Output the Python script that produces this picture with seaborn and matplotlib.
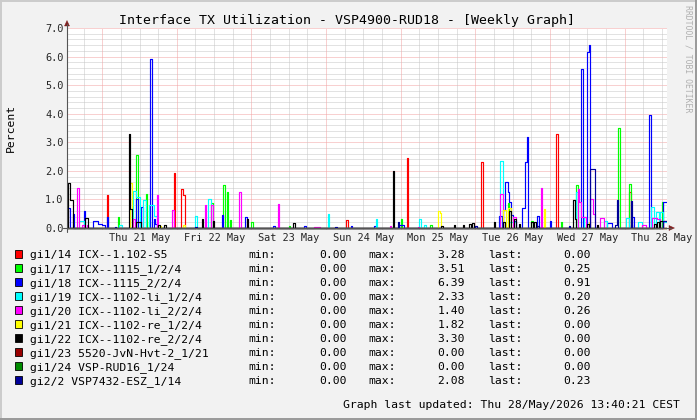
import numpy as np
import pandas as pd
import matplotlib
matplotlib.use("Agg")
import matplotlib.pyplot as plt
import seaborn as sns
from matplotlib.patches import Rectangle, Polygon
from matplotlib.lines import Line2D

# ---------------- data ----------------
title = "Interface TX Utilization - VSP4900-RUD18 - [Weekly Graph]"
y_label = "Percent"
watermark = "RRDTOOL / TOBI OETIKER"
updated = "Graph last updated: Thu 28/May/2026 13:40:21 CEST"

day_labels = ["Thu 21 May", "Fri 22 May", "Sat 23 May", "Sun 24 May",
              "Mon 25 May", "Tue 26 May", "Wed 27 May", "Thu 28 May"]
y_ticks = [0, 1, 2, 3, 4, 5, 6, 7]

# hours relative to Thu 21 May 00:00
T_START, T_END = -11.33, 181.67

names = ["gi1/14 ICX--1.102-S5", "gi1/17 ICX--1115_1/2/4", "gi1/18 ICX--1115_2/2/4",
         "gi1/19 ICX--1102-li_1/2/4", "gi1/20 ICX--1102-li_2/2/4", "gi1/21 ICX--1102-re_1/2/4",
         "gi1/22 ICX--1102-re_2/2/4", "gi1/23 5520-JvN-Hvt-2_1/21", "gi1/24 VSP-RUD16_1/24",
         "gi2/2 VSP7432-ESZ_1/14"]
colors = ["#ff0000", "#00ff00", "#0000ff", "#00ffff", "#ff00ff", "#ffff00",
          "#000000", "#990000", "#008c00", "#000099"]
mins = [0.00, 0.00, 0.00, 0.00, 0.00, 0.00, 0.00, 0.00, 0.00, 0.00]
maxs = [3.28, 3.51, 6.39, 2.33, 1.40, 1.82, 3.30, 0.00, 0.00, 2.08]
lasts = [0.00, 0.25, 0.91, 0.20, 0.26, 0.00, 0.00, 0.00, 0.00, 0.23]

# (half-hour slot from Thu 21 May 00:00, percent) -- all other slots are 0
red = [(3, 1.15), (46, 1.91), (51, 1.36), (52, 1.17), (157, 0.27), (196, 2.46),
       (244, 2.30), (292, 3.28), (339, 1.25)]
green = [(10, 0.39), (22, 2.56), (28, 1.20), (30, 0.20), (70, 0.86), (78, 1.50), (80, 1.27),
         (82, 0.28), (96, 0.20), (120, 0.08), (192, 0.31), (211, 0.10), (261, 0.86),
         (276, 0.25), (295, 0.20), (305, 1.50), (332, 3.51), (339, 1.53), (360, 0.90),
         (361, 0.25), (362, 0.25), (363, 0.25)]
blue = [(-22, 0.69), (-19, 0.50), (-12, 0.60), (-6, 0.23), (-5, 0.23), (-4, 0.23),
        (-3, 0.15), (-2, 0.15), (-1, 0.15), (0, 0.10), (1, 0.10), (3, 0.40), (22, 1.00),
        (25, 0.75), (31, 5.90), (33, 0.30), (34, 0.15), (77, 0.44), (92, 0.38), (110, 0.06),
        (130, 0.06), (160, 0.06), (175, 0.06), (191, 0.12), (192, 0.12), (193, 0.12),
        (255, 0.42), (256, 0.42), (258, 0.63), (259, 1.62), (260, 1.62), (261, 1.27),
        (262, 0.90), (263, 0.45), (264, 0.24), (265, 0.24), (270, 0.70), (271, 0.70),
        (272, 2.30), (273, 3.20), (280, 0.42), (288, 0.25), (308, 5.56), (312, 6.15),
        (313, 6.39), (325, 0.17), (326, 0.17), (327, 0.17), (341, 0.40), (352, 3.95),
        (361, 0.91), (362, 0.91), (363, 0.91)]
cyan = [(-15, 0.23), (-14, 0.23), (-13, 0.23), (11, 0.12), (12, 0.12), (20, 1.30), (21, 1.30),
        (22, 1.10), (23, 1.10), (26, 0.98), (27, 0.98), (30, 0.80), (31, 0.80), (32, 0.80),
        (33, 0.42), (34, 0.42), (60, 0.42), (68, 1.03), (69, 1.03), (145, 0.48), (176, 0.33),
        (204, 0.31), (207, 0.12), (256, 2.33), (257, 2.33), (262, 0.22), (263, 0.22),
        (264, 0.22), (265, 0.22), (305, 1.27), (310, 0.40), (323, 0.23), (324, 0.23),
        (337, 0.35), (338, 0.35), (345, 0.20), (346, 0.20), (353, 0.72), (354, 0.72),
        (356, 0.55), (357, 0.55), (359, 0.57), (360, 0.57), (361, 0.20), (362, 0.20),
        (363, 0.20)]
magenta = [(-16, 1.39), (-13, 0.10), (-10, 0.10), (20, 0.30), (35, 1.17), (45, 0.63),
           (66, 0.80), (70, 0.80), (88, 1.27), (113, 0.84), (136, 0.05), (137, 0.05),
           (138, 0.05), (139, 0.05), (185, 0.06), (203, 0.05), (256, 1.19), (257, 1.19),
           (264, 0.40), (265, 0.40), (282, 1.40), (306, 1.36), (307, 0.90), (308, 0.40),
           (309, 0.40), (310, 0.40), (314, 1.00), (315, 1.00), (316, 0.50), (320, 0.35),
           (321, 0.35), (322, 0.35), (347, 0.12), (348, 0.12), (349, 0.12), (354, 0.35),
           (355, 0.35), (356, 0.35), (357, 0.30), (358, 0.30), (361, 0.26), (362, 0.26),
           (363, 0.26)]
yellow = [(18, 1.56), (37, 0.07), (52, 0.10), (216, 0.60), (217, 0.51), (258, 0.63),
          (259, 0.63), (261, 0.70), (262, 0.70), (284, 0.68), (313, 0.20)]
black = [(-22, 1.56), (-21, 0.98), (-20, 0.98), (-11, 0.35), (-10, 0.35), (17, 3.30),
         (18, 0.65), (22, 0.20), (23, 0.20), (24, 0.20), (36, 0.10), (40, 0.12), (64, 0.30),
         (71, 0.25), (93, 0.30), (123, 0.18), (187, 2.00), (218, 0.08), (226, 0.10),
         (232, 0.12), (236, 0.15), (238, 0.16), (252, 0.20), (258, 0.20), (262, 0.59),
         (265, 0.30), (268, 0.15), (276, 0.20), (278, 0.20), (303, 0.98), (304, 0.30),
         (312, 0.15), (318, 0.12), (340, 0.10), (355, 0.15), (357, 0.20), (359, 0.25),
         (360, 0.25)]
darkred = []
darkgreen = []
navy = [(8, 0.05), (60, 0.04), (150, 0.05), (190, 0.20), (240, 0.06), (280, 0.08),
        (300, 0.06), (314, 2.08), (315, 2.05), (316, 2.05), (330, 0.10), (331, 0.98),
        (340, 0.95), (361, 0.23), (362, 0.23), (363, 0.23)]

series_spikes = [red, green, blue, cyan, magenta, yellow, black, darkred, darkgreen, navy]

# ---------------- style ----------------
W, H, DPI = 697, 420, 100
BG = "#f2f2f2"
MONO = ["DejaVu Sans Mono"]
sns.set_theme(style="white")
plt.rcParams["font.family"] = MONO
plt.rcParams["text.color"] = "black"

def fx(px):
    return px / W

def fy(py):
    return 1 - py / H

fig = plt.figure(figsize=(W / DPI, H / DPI), dpi=DPI, facecolor=BG)

PL, PR, PT, PB = 67, 667, 28, 228
UNIT = (PB - PT) / 7.0
ax = fig.add_axes([fx(PL), fy(PB + 2), (PR - PL) / W, (PB + 2 - PT) / H])
ax.set_facecolor("white")
for s in ax.spines.values():
    s.set_visible(False)

# ---------------- lines ----------------
slots = np.arange(-23, 364)
frames = []
for name, spikes in zip(names, series_spikes):
    v = np.zeros(len(slots))
    for s, val in spikes:
        v[s + 23] = val
    t = np.append(slots * 0.5, T_END + 0.5)
    v = np.append(v, v[-1])
    frames.append(pd.DataFrame({"t": t, "v": v, "series": name}))
df = pd.concat(frames, ignore_index=True)

sns.lineplot(data=df, x="t", y="v", hue="series", hue_order=names, palette=colors,
             estimator=None, sort=False, drawstyle="steps-post", linewidth=0.85,
             legend=False, ax=ax, zorder=3)

ax.set_xlim(T_START, T_END)
ax.set_ylim(-2 / UNIT, 7)
ax.set_xlabel("")
ax.set_ylabel("")

# grid
GRID = "#c6c6c6"
MGRID = "#f2a3a3"
for yv in np.arange(0.2, 7.01, 0.2):
    major = abs(yv - round(yv)) < 1e-6
    ax.axhline(yv, color=MGRID if major else GRID, lw=0.72, ls=(0, (1, 1)), zorder=1)
for tv in np.arange(-6, 181, 6):
    major = tv % 24 == 0
    ax.axvline(tv, color=MGRID if major else GRID, lw=0.72, ls=(0, (1, 1)), zorder=1)

# ticks & labels
noon = [12 + 24 * i for i in range(len(day_labels))]
ax.set_xticks(noon)
ax.set_xticklabels(day_labels, fontsize=7.4, family=MONO)
ax.set_yticks(y_ticks)
ax.set_yticklabels([f"{v:.1f}" for v in y_ticks], fontsize=7.4, family=MONO)
ax.tick_params(axis="x", length=0, pad=2.4)
ax.tick_params(axis="y", length=0, pad=2.6)

# axes lines and arrows
AX_COL = "#555555"
ARROW = "#7f1f1f"
fig.add_artist(Line2D([fx(63), fx(671)], [fy(228), fy(228)], color=AX_COL, lw=0.8))
fig.add_artist(Line2D([fx(67), fx(67)], [fy(232), fy(24)], color=AX_COL, lw=0.8))
fig.add_artist(Polygon([(fx(64.5), fy(26)), (fx(69.5), fy(26)), (fx(67), fy(20.5))],
                       closed=True, facecolor=ARROW, edgecolor=ARROW, lw=0.3))
fig.add_artist(Polygon([(fx(669), fy(225.5)), (fx(669), fy(230.5)), (fx(674.5), fy(228))],
                       closed=True, facecolor=ARROW, edgecolor=ARROW, lw=0.3))

# texts
fig.text(fx(346.7), fy(24), title, ha="center", va="baseline", fontsize=9.5)
fig.text(fx(11), fy(128), y_label, ha="center", va="center", rotation=90, fontsize=8.2)
fig.text(fx(688), fy(59), watermark, ha="center", va="center", rotation=270,
         fontsize=5.9, color="#b0b0b0")

LFS = 8.2
for i, (name, col, mn, mx, ls) in enumerate(zip(names, colors, mins, maxs, lasts)):
    base = 258 + 14 * i
    fig.add_artist(Rectangle((fx(15), fy(base)), 7 / W, 8 / H, transform=fig.transFigure,
                             facecolor=col, edgecolor="black", lw=0.6))
    fig.text(fx(30), fy(base), name, ha="left", va="baseline", fontsize=LFS)
    fig.text(fx(248), fy(base), "min:", ha="left", va="baseline", fontsize=LFS)
    fig.text(fx(347), fy(base), f"{mn:.2f}", ha="right", va="baseline", fontsize=LFS)
    fig.text(fx(368), fy(base), "max:", ha="left", va="baseline", fontsize=LFS)
    fig.text(fx(465), fy(base), f"{mx:.2f}", ha="right", va="baseline", fontsize=LFS)
    fig.text(fx(488), fy(base), "last:", ha="left", va="baseline", fontsize=LFS)
    fig.text(fx(591), fy(base), f"{ls:.2f}", ha="right", va="baseline", fontsize=LFS)
fig.text(fx(680), fy(408), updated, ha="right", va="baseline", fontsize=LFS)

# 3D border
fig.add_artist(Line2D([0, 1], [fy(0.5), fy(0.5)], color="#cbcbcb", lw=1.4))
fig.add_artist(Line2D([fx(0.5), fx(0.5)], [0, 1], color="#cbcbcb", lw=1.4))
fig.add_artist(Line2D([0, 1], [fy(419.3), fy(419.3)], color="#999999", lw=1.4))
fig.add_artist(Line2D([fx(696.3), fx(696.3)], [0, 1], color="#999999", lw=1.4))

fig.savefig("out.png", dpi=DPI, facecolor=BG)
